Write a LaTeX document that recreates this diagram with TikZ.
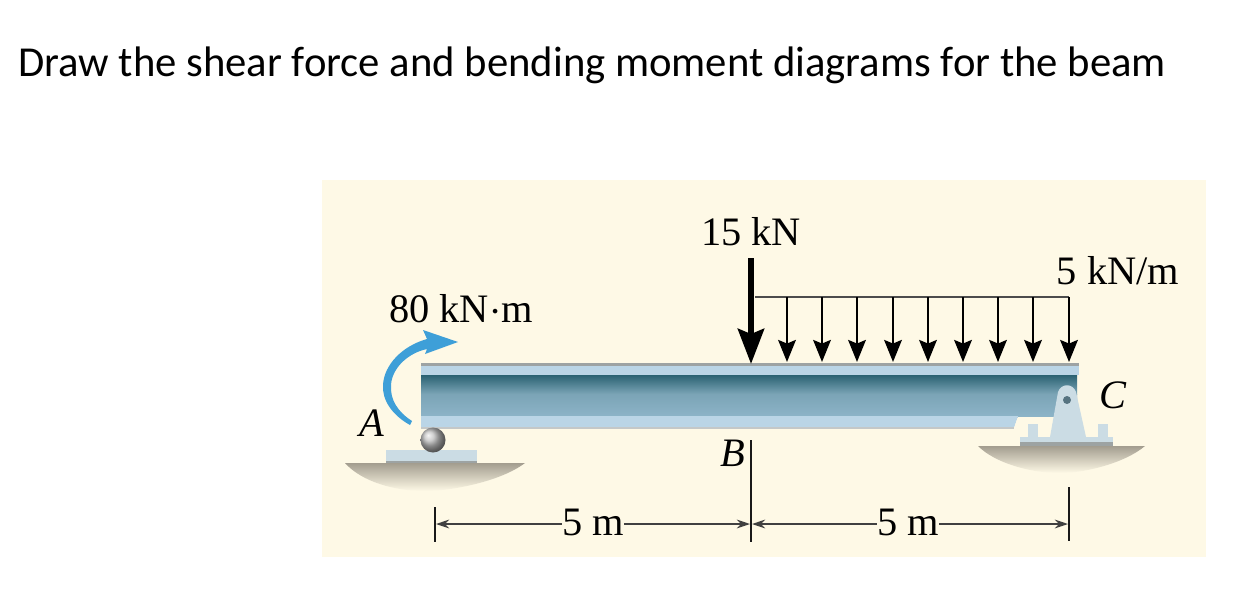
\documentclass[tikz,border=0pt]{standalone}
\usepackage{fontspec}
\setmainfont{Liberation Serif}
\newfontfamily\headfont{Carlito}
\usetikzlibrary{arrows.meta}
\definecolor{panelcol}{HTML}{FEF9E6}
\definecolor{momentcol}{HTML}{3E9FD8}
\definecolor{flangecol}{HTML}{BAD5E6}
\definecolor{edgecol}{HTML}{9DA3A3}
\definecolor{webtop}{HTML}{2A6272}
\definecolor{webmid}{HTML}{7BA4B6}
\definecolor{webbot}{HTML}{8DB4C8}
\definecolor{steelcol}{HTML}{CBDCE4}
\definecolor{groundcol}{HTML}{A39D8F}
\tikzset{
  loadlabel/.style={font=\fontsize{23}{24}\selectfont,inner sep=0pt},
  pointlabel/.style={font=\fontsize{23}{24}\selectfont\itshape,inner sep=0pt},
  bigload/.style={line width=2.9pt,-{Stealth[length=20pt,width=15pt,inset=3pt]},shorten >=-0.5pt},
  udl/.style={line width=1.6pt,-{Stealth[length=12.5pt,width=10pt,inset=2pt]}},
  udlbar/.style={line width=1.5pt,black!70},
  tick/.style={line width=1pt,black!90},
  dimline/.style={line width=1pt,black!75,-{Stealth[length=7.5pt,width=5pt]}},
}
\begin{document}
\begin{tikzpicture}[line cap=butt,line join=round,x=0.02cm,y=-0.02cm]
\useasboundingbox (0,0) rectangle (1257,612);
\fill[white] (0,0) rectangle (1257,612);
\fill[panelcol] (322,180) rectangle (1206,557);
\node[anchor=west,inner sep=0pt,font=\headfont\fontsize{24.3}{26}\selectfont] (title) at (18,65) {Draw the shear force and bending moment diagrams for the beam};
\shade[top color=groundcol,bottom color=panelcol] (345,463) -- (525,463) .. controls (500,482) and (450,491) .. (425,491) .. controls (395,491) and (362,482) .. (345,463) -- cycle;
\shade[top color=groundcol,bottom color=panelcol] (978,446) -- (1145,446) .. controls (1125,463) and (1085,473) .. (1060,473) .. controls (1030,473) and (995,463) .. (978,446) -- cycle;
\fill[flangecol] (421,363) rectangle (1079,375);
\fill[edgecol] (421,363) rectangle (1079,366);
\shade[top color=webtop,bottom color=webmid] (421,375) rectangle (1077,394);
\shade[top color=webmid,bottom color=webbot] (421,394) -- (1077,394) -- (1077,417) -- (421,417) -- cycle;
\fill[flangecol] (421,416) -- (1018,416) -- (1014,428) -- (421,428) -- cycle;
\fill[edgecol!60] (421,427) rectangle (1014,428.5);
\fill[panelcol] (1018,417) -- (1077,417) -- (1077,440) -- (1014,440) -- (1014,428) -- cycle;
\fill[steelcol] (386,450) rectangle (477,463);
\fill[edgecol] (386,461) rectangle (477,463);
\shade[ball color=gray!50] (433,440) circle (12.5);
\fill[steelcol] (1020,437) rectangle (1113,445);
\fill[edgecol] (1020,442) rectangle (1113,446);
\fill[steelcol] (1028,424) rectangle (1038,437);
\fill[steelcol] (1098,424) rectangle (1108,437);
\fill[steelcol] (1050,437) -- (1058,392) .. controls (1061,383) and (1073,383) .. (1076,392) -- (1086,437) -- cycle;
\fill[webmid!70!black] (1067,400) circle (4);
\fill[momentcol] (410,425) .. controls (392,415) and (382,400) .. (383,385) .. controls (384,365) and (402,346) .. (427,339) -- (423,330) -- (458,342) -- (425,354) -- (427,349) .. controls (408,353) and (392,368) .. (391,385) .. controls (390,400) and (398,412) .. (412,421) -- cycle;
\node[loadlabel] (loadp) at (751,232) {15 kN};
\node[loadlabel] (loadq) at (1118,271) {5 kN/m};
\node[loadlabel] (loadm) at (461,309) {80 kN$\cdot$m};
\node[pointlabel] (ptA) at (372,423) {A};
\node[pointlabel] (ptB) at (733,453) {B};
\node[pointlabel] (ptC) at (1113,395) {C};
\coordinate (p0) at (751,258);
\coordinate (b0) at (751,363);
\coordinate (q0) at (755,297);
\coordinate (q1) at (787,297);
\coordinate (q2) at (822,297);
\coordinate (q3) at (857,297);
\coordinate (q4) at (893,297);
\coordinate (q5) at (928,297);
\coordinate (q6) at (963,297);
\coordinate (q7) at (998,297);
\coordinate (q8) at (1033,297);
\coordinate (q9) at (1069,297);
\coordinate (b1) at (787,362);
\coordinate (b2) at (822,362);
\coordinate (b3) at (857,362);
\coordinate (b4) at (893,362);
\coordinate (b5) at (928,362);
\coordinate (b6) at (963,362);
\coordinate (b7) at (998,362);
\coordinate (b8) at (1033,362);
\coordinate (b9) at (1069,362);
\draw[udlbar] (q0)-- (q9);
\draw[bigload] (p0)-- (b0);
\draw[udl] (q1)-- (b1);
\draw[udl] (q2)-- (b2);
\draw[udl] (q3)-- (b3);
\draw[udl] (q4)-- (b4);
\draw[udl] (q5)-- (b5);
\draw[udl] (q6)-- (b6);
\draw[udl] (q7)-- (b7);
\draw[udl] (q8)-- (b8);
\draw[udl] (q9)-- (b9);
\coordinate (tickAt) at (435,507);
\coordinate (tickAb) at (435,542);
\coordinate (tickBt) at (751,440);
\coordinate (tickBb) at (751,542);
\coordinate (tickCt) at (1069,487);
\coordinate (tickCb) at (1069,541);
\coordinate (dimA) at (436,524);
\coordinate (dimBl) at (750,524);
\coordinate (dimBr) at (752,524);
\coordinate (dimC) at (1068,524);
\draw[tick] (tickAt)-- (tickAb);
\draw[tick] (tickBt)-- (tickBb);
\draw[tick] (tickCt)-- (tickCb);
\node[loadlabel,text height=11pt,text depth=0pt] (spanl) at (593,526) {5 m};
\node[loadlabel,text height=11pt,text depth=0pt] (spanr) at (908,526) {5 m};
\draw[dimline] (spanl.west |- dimA)-- (dimA);
\draw[dimline] (spanl.east |- dimA)-- (dimBl);
\draw[dimline] (spanr.west |- dimA)-- (dimBr);
\draw[dimline] (spanr.east |- dimA)-- (dimC);
\end{tikzpicture}
\end{document}
